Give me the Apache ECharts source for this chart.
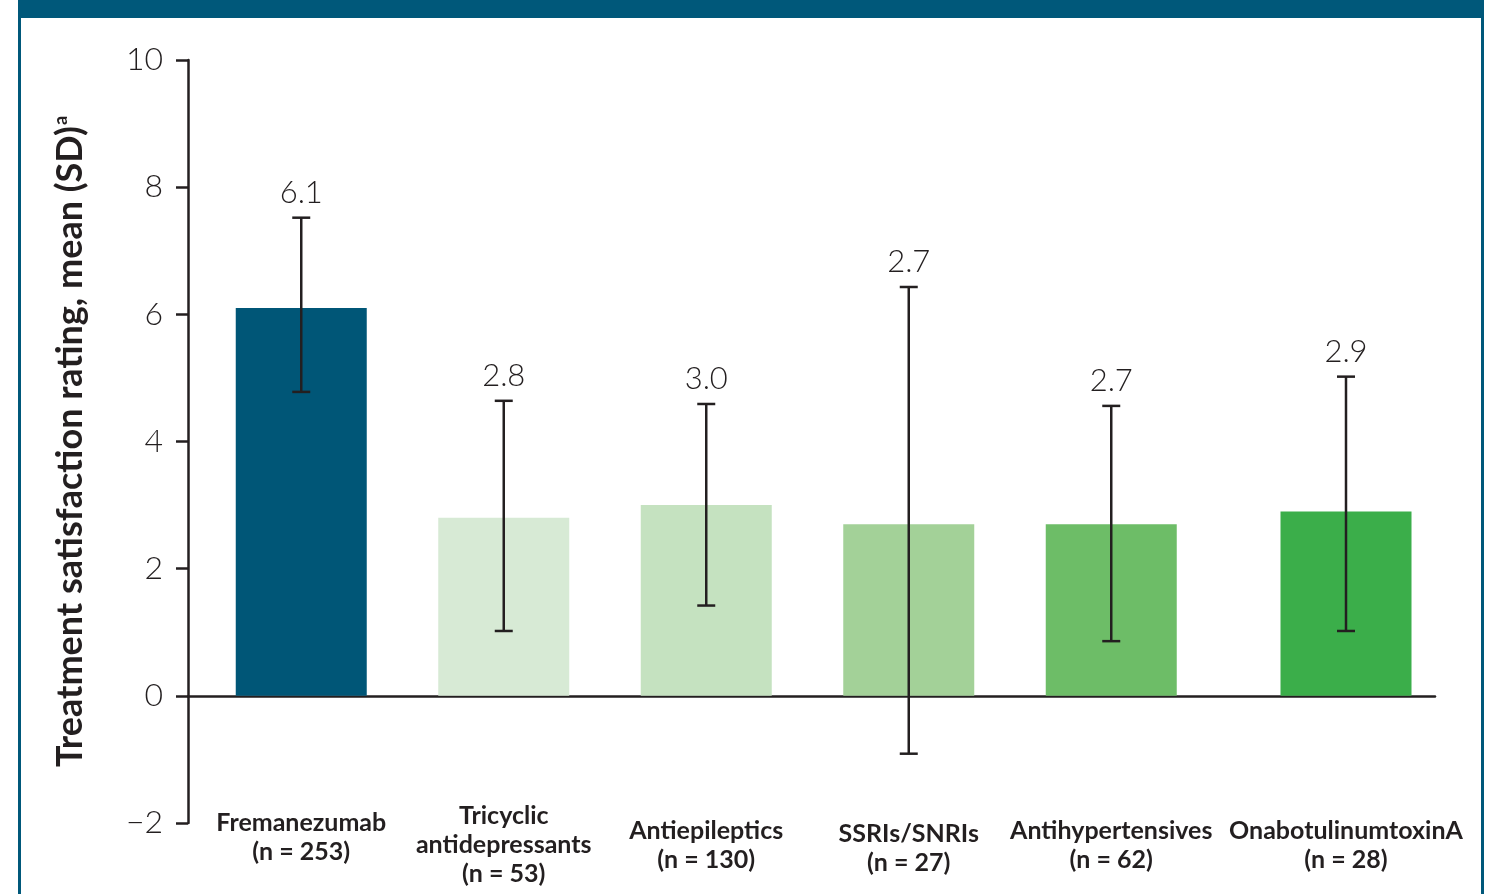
<!DOCTYPE html>
<html>
<head>
<meta charset="utf-8">
<title>Treatment satisfaction rating by preventive treatment</title>
<script src="https://cdn.jsdelivr.net/npm/echarts@6/dist/echarts.min.js"></script>
<style>
  html, body { margin: 0; padding: 0; background: #ffffff; }
  #chart { width: 1508px; height: 894px; }
</style>
</head>
<body>
<div id="chart"></div>
<script>
// Treatment groups shown along the x axis
const categories = [
  'Fremanezumab\n(n = 253)',
  'Tricyclic\nantidepressants\n(n = 53)',
  'Antiepileptics\n(n = 130)',
  'SSRIs/SNRIs\n(n = 27)',
  'Antihypertensives\n(n = 62)',
  'OnabotulinumtoxinA\n(n = 28)'
];
// Mean treatment satisfaction rating
const means = [6.1, 2.8, 3.0, 2.7, 2.7, 2.9];
// Ends of the SD whiskers
const errorLow = [4.78, 1.02, 1.42, -0.91, 0.86, 1.02];
const errorHigh = [7.52, 4.64, 4.59, 6.43, 4.56, 5.02];
// Value labels printed above each whisker
const valueLabels = ['6.1', '2.8', '3.0', '2.7', '2.7', '2.9'];
// Y axis range and tick step
const yMin = -2, yMax = 10, yStep = 2;

const barColors = ['#005677', '#d7ead5', '#c5e2c0', '#a3d198', '#6dbd67', '#3bae4a'];
const ink = '#231f20';
const frameColor = '#00587a';
const fontFamily = 'Lato, "Open Sans", "DejaVu Sans", sans-serif';

// Plot frame shared by all panels (top/bottom in px)
const plotTop = 60, plotBottom = 71;
// Bars are laid out in two blocks: the five oral preventives and the injectable,
// which sits a little further right to give its long label room.
const blocks = [
  { from: 0, to: 5, left: 200, right: 295.5 },
  { from: 5, to: 6, left: 1245, right: 61 }
];

// Small vertical nudges for individual category labels
const labelNudge = { 0: 'up', 3: 'down' };

function labelFormatter(value) {
  const idx = categories.indexOf(value);
  let text = value.split('\n').map(l => '{b|' + l + '}').join('\n');
  if (labelNudge[idx] === 'up') text = text + '\n{up| }';
  if (labelNudge[idx] === 'down') text = '{down| }\n' + text;
  return text;
}

const chart = echarts.init(document.getElementById('chart'), null, { renderer: 'canvas' });

const grids = [{ left: 188, right: 73, top: plotTop, bottom: plotBottom, outerBoundsMode: 'none' }];
const xAxes = [{
  // axis frame: only the baseline at y = 0
  type: 'value', gridIndex: 0, min: 0, max: 1,
  axisLine: { show: true, onZero: true, lineStyle: { color: ink, width: 2.5 } },
  axisTick: { show: false }, axisLabel: { show: false }, splitLine: { show: false }
}];
const yAxes = [{
  type: 'value', gridIndex: 0,
  min: yMin, max: yMax, interval: yStep,
  name: '{t|Treatment satisfaction rating, mean (SD)}{s|a}',
  nameLocation: 'middle',
  nameGap: 100,
  nameRotate: 90,
  nameTextStyle: {
    rich: {
      t: { fontFamily: fontFamily, fontWeight: 'bold', fontSize: 36, color: ink },
      s: { fontFamily: fontFamily, fontWeight: 'bold', fontSize: 18, color: ink, verticalAlign: 'top', padding: [0, 0, 17, 1] }
    }
  },
  axisLine: { show: true, onZero: false, lineStyle: { color: ink, width: 2.5 } },
  axisTick: { show: true, length: 12, lineStyle: { color: ink, width: 2.5 } },
  axisLabel: {
    margin: 25,
    color: ink,
    fontFamily: fontFamily,
    fontWeight: 300,
    fontSize: 32,
    formatter: v => (v < 0 ? '\u2212' + Math.abs(v) : String(v))
  },
  splitLine: { show: false }
}];
const series = [];

blocks.forEach((blk, b) => {
  const g = b + 1;
  grids.push({ left: blk.left, right: blk.right, top: plotTop, bottom: plotBottom, outerBoundsMode: 'none' });
  xAxes.push({
    type: 'category', gridIndex: g,
    data: categories.slice(blk.from, blk.to),
    axisLine: { show: false, onZero: false },
    axisTick: { show: false },
    axisLabel: {
      interval: 0,
      margin: 22,
      verticalAlign: 'middle',
      align: 'center',
      formatter: labelFormatter,
      rich: {
        b: { color: ink, fontFamily: fontFamily, fontWeight: 'bold', fontSize: 25, lineHeight: 29 },
        up: { fontSize: 1, lineHeight: 16 },
        down: { fontSize: 1, lineHeight: 6 }
      }
    },
    splitLine: { show: false }
  });
  yAxes.push({ type: 'value', gridIndex: g, min: yMin, max: yMax, interval: yStep, show: false });

  const idx = [];
  for (let i = blk.from; i < blk.to; i++) idx.push(i);

  series.push({
    type: 'bar',
    xAxisIndex: g, yAxisIndex: g,
    barWidth: 131,
    data: idx.map(i => ({ value: means[i], itemStyle: { color: barColors[i] } })),
    z: 2
  });
  series.push({
    type: 'custom',
    xAxisIndex: g, yAxisIndex: g,
    z: 6,
    data: idx.map((i, k) => [k, errorLow[i], errorHigh[i], i]),
    renderItem: function (params, api) {
      const k = api.value(0);
      const i = api.value(3);
      const lo = api.coord([k, api.value(1)]);
      const hi = api.coord([k, api.value(2)]);
      const cap = 9;
      const style = { stroke: ink, lineWidth: 2.5, fill: 'none' };
      return {
        type: 'group',
        children: [
          { type: 'line', shape: { x1: hi[0], y1: hi[1], x2: lo[0], y2: lo[1] }, style: style },
          { type: 'line', shape: { x1: hi[0] - cap, y1: hi[1], x2: hi[0] + cap, y2: hi[1] }, style: style },
          { type: 'line', shape: { x1: lo[0] - cap, y1: lo[1], x2: lo[0] + cap, y2: lo[1] }, style: style },
          {
            type: 'text',
            x: hi[0],
            y: hi[1] - 25,
            style: {
              text: valueLabels[i],
              align: 'center',
              verticalAlign: 'middle',
              fill: ink,
              fontFamily: fontFamily,
              fontWeight: 300,
              fontSize: 31
            }
          }
        ]
      };
    }
  });
});

// Baseline drawn on top of the bars
series.push({
  type: 'line', xAxisIndex: 0, yAxisIndex: 0, data: [], silent: true
});

const option = {
  animation: false,
  backgroundColor: '#ffffff',
  graphic: [
    { type: 'rect', shape: { x: 18, y: 0, width: 1466, height: 18 }, style: { fill: frameColor }, z: 10 },
    { type: 'rect', shape: { x: 18, y: 0, width: 3, height: 894 }, style: { fill: frameColor }, z: 10 },
    { type: 'rect', shape: { x: 1481, y: 0, width: 3, height: 894 }, style: { fill: frameColor }, z: 10 }
  ],
  grid: grids,
  xAxis: xAxes,
  yAxis: yAxes,
  series: series
};

chart.setOption(option);
</script>
</body>
</html>
